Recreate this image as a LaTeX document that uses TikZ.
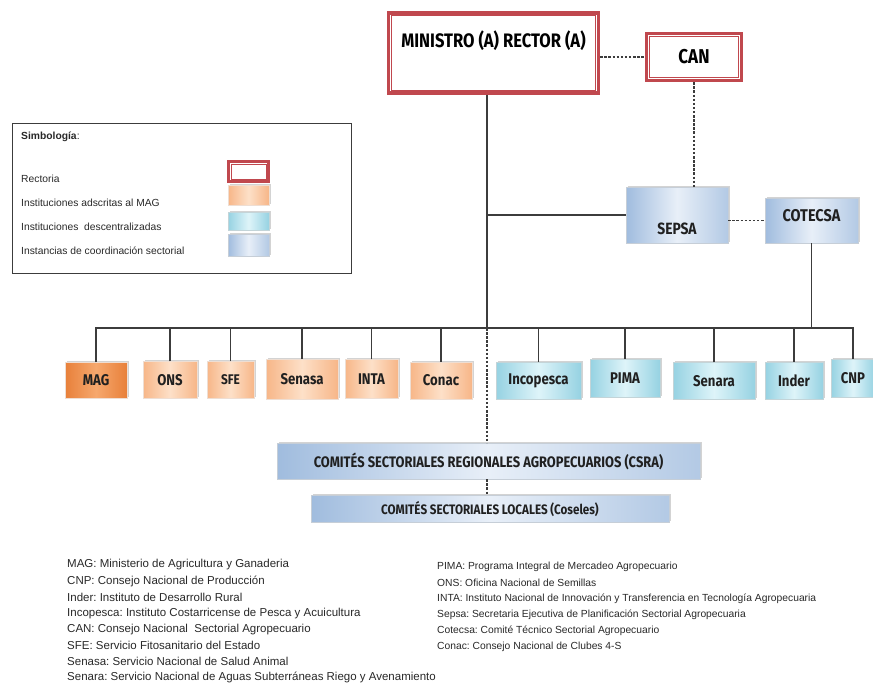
\documentclass[tikz,border=0pt]{standalone}
\usepackage{fontspec}
\setmainfont{Liberation Sans}
\newfontfamily\boxfont[FakeStretch=0.85]{Fira Sans}
\usetikzlibrary{calc,shadows}
\frenchspacing

\definecolor{rectred}{RGB}{192,72,78}
\definecolor{orglt}{RGB}{253,224,200}
\definecolor{orgdk}{RGB}{247,182,136}
\definecolor{maglt}{RGB}{246,168,110}
\definecolor{magdk}{RGB}{232,128,58}
\definecolor{cyanlt}{RGB}{222,244,249}
\definecolor{cyandk}{RGB}{150,210,226}
\definecolor{bluelt}{RGB}{232,239,248}
\definecolor{bluedk}{RGB}{160,188,222}
\definecolor{linegray}{RGB}{60,60,60}
\definecolor{txtgray}{RGB}{40,40,40}

\tikzset{
  rector/.style={draw=rectred, line width=3.5pt, fill=white, font=\boxfont\bfseries},
  rectin/.style={draw=rectred, line width=0.9pt},
  boxsh/.style={drop shadow={opacity=0.35, shadow xshift=1.5pt, shadow yshift=1.5pt}},
  boxtxt/.style={font=\boxfont\bfseries\fontsize{15.5}{15.5}\selectfont, text=txtgray!80!black},
  orgbox/.style={boxsh, left color=orgdk, right color=orgdk, middle color=orglt, draw=orgdk!80!black!30, thin, boxtxt},
  magbox/.style={orgbox, left color=magdk, right color=magdk, middle color=maglt},
  cyanbox/.style={boxsh, left color=cyandk, right color=cyandk, middle color=cyanlt, draw=cyandk!70!black!40, thin, boxtxt},
  bluebox/.style={boxsh, left color=bluedk, right color=bluedk!80, middle color=bluelt, draw=bluedk!70!black!40, thin, boxtxt},
  conn/.style={draw=linegray, line width=1.1pt},
  dashconn/.style={draw=linegray, line width=1.4pt, dash pattern=on 2.5pt off 1.6pt},
  legtext/.style={anchor=west, inner sep=0pt, font=\fontsize{10.3}{10.3}\selectfont, text=txtgray},
  notetext/.style={anchor=west, inner sep=0pt, font=\fontsize{11.5}{11.5}\selectfont, text=txtgray}
}

\begin{document}
\begin{tikzpicture}[x=1pt,y=1pt,yscale=-1,xscale=1]
\useasboundingbox (0,0) rectangle (873,686);

% Top level
\node[rector, minimum width=210, minimum height=80, text depth=27pt, font=\boxfont\bfseries\fontsize{19.5}{19.5}\selectfont] (min) at (493.5,53) {MINISTRO (A) RECTOR (A)};
\draw[rectin] ($(min.north west)+(4.5,4.5)$) rectangle ($(min.south east)+(-4.5,-4.5)$);
\node[rector, minimum width=95, minimum height=47, font=\boxfont\bfseries\fontsize{20}{20}\selectfont] (can) at (694,57) {CAN};
\draw[rectin] ($(can.north west)+(4.5,4.5)$) rectangle ($(can.south east)+(-4.5,-4.5)$);

% Coordination
\node[bluebox, minimum width=102, minimum height=56, text height=40pt, font=\boxfont\bfseries\fontsize{16.3}{16.3}\selectfont] (sepsa) at (677,215) {SEPSA};
\node[bluebox, minimum width=93, minimum height=45, text depth=10pt, font=\boxfont\bfseries\fontsize{17}{17}\selectfont] (cot) at (811.5,220.5) {COTECSA};

% Institutions
\node[magbox, minimum width=62, minimum height=36] (mag) at (96,380.5) {MAG};
\node[orgbox, minimum width=54, minimum height=37] (ons) at (170,380) {ONS};
\node[orgbox, minimum width=47, minimum height=37, font=\boxfont\bfseries\fontsize{14}{14}\selectfont] (sfe) at (230.5,380) {SFE};
\node[orgbox, minimum width=72, minimum height=40] (senasa) at (302,379) {Senasa};
\node[orgbox, minimum width=53, minimum height=39] (inta) at (371.5,379) {INTA};
\node[orgbox, minimum width=62, minimum height=37] (conac) at (441,380.5) {Conac};
\node[cyanbox, minimum width=85, minimum height=37] (incop) at (538.5,380.5) {Incopesca};
\node[cyanbox, minimum width=70, minimum height=38] (pima) at (625,378) {PIMA};
\node[cyanbox, minimum width=82, minimum height=37] (senara) at (714,381) {Senara};
\node[cyanbox, minimum width=58, minimum height=37] (inder) at (794,380.5) {Inder};
\node[cyanbox, minimum width=44, minimum height=38] (cnp) at (853,378) {CNP};

% Regional and local committees
\node[bluebox, minimum width=423, minimum height=36, font=\boxfont\bfseries\fontsize{15.2}{15.2}\selectfont] (csra) at (488.5,461) {COMITÉS SECTORIALES REGIONALES AGROPECUARIOS (CSRA)};
\node[bluebox, minimum width=358, minimum height=27, font=\boxfont\bfseries\fontsize{13.7}{13.7}\selectfont] (cos) at (490,509) {COMITÉS SECTORIALES LOCALES (Coseles)};

% Connectors
\coordinate (bus) at (487,328);
\draw[conn] (min.south -| bus) -- (bus);
\draw[conn] (sepsa.west) -- (sepsa.west -| bus);
\draw[conn] (mag.north) |- (bus) -| (cnp.north);
\foreach \n in {ons,sfe,senasa,inta,conac,incop,pima,senara,inder}
  \draw[conn] (\n.north) -- (\n.north |- bus);
\draw[conn] (cot.south) -- (cot.south |- bus);
\draw[dashconn] (can.west -| min.east) -- (can.west);
\draw[dashconn] (can.south) -- (can.south |- sepsa.north);
\draw[dashconn] (cot.west -| sepsa.east) -- (cot.west);
\draw[dashconn] (bus) -- (csra.north -| bus);
\draw[dashconn] (csra.south -| bus) -- (cos.north -| bus);

% Legend
\node[draw=linegray, line width=1pt, minimum width=339, minimum height=150] (leg) at (181.5,198) {};
\node[legtext] (legt) at (21,137) {\textbf{Simbología}:};
\node[legtext] (l1) at (21,179) {Rectoria};
\node[legtext] (l2) at (21,203) {Instituciones adscritas al MAG};
\node[legtext] (l3) at (21,227) {Instituciones \ descentralizadas};
\node[legtext] (l4) at (21,251) {Instancias de coordinación sectorial};
\node[draw=rectred, line width=3pt, minimum width=40, minimum height=20, fill=white] (s1) at (248.5,171.5) {};
\draw[rectin, line width=0.7pt] ($(s1.north west)+(4,4)$) rectangle ($(s1.south east)+(-4,-4)$);
\node[orgbox, minimum width=41, minimum height=20] (s2) at (248.5,195) {};
\node[cyanbox, minimum width=41, minimum height=18] (s3) at (248.5,221) {};
\node[bluebox, minimum width=41, minimum height=22] (s4) at (248.5,245) {};

% Notes
\foreach \t [count=\i from 0] in {MAG: Ministerio de Agricultura y Ganaderia,
  CNP: Consejo Nacional de Producción,
  Inder: Instituto de Desarrollo Rural,
  Incopesca: Instituto Costarricense de Pesca y Acuicultura,
  CAN: Consejo Nacional \ Sectorial Agropecuario,
  SFE: Servicio Fitosanitario del Estado,
  Senasa: Servicio Nacional de Salud Animal,
  Senara: Servicio Nacional de Aguas Subterráneas Riego y Avenamiento}
  \node[notetext] (nl\i) at (67,565+16.1*\i) {\t};
\foreach \t [count=\i from 0] in {PIMA: Programa Integral de Mercadeo Agropecuario,
  ONS: Oficina Nacional de Semillas,
  INTA: Instituto Nacional de Innovación y Transferencia en Tecnología Agropecuaria,
  Sepsa: Secretaria Ejecutiva de Planificación Sectorial Agropecuaria,
  Cotecsa: Comité Técnico Sectorial Agropecuario,
  Conac: Consejo Nacional de Clubes 4-S}
  \node[notetext, font=\fontsize{10.3}{10.3}\selectfont] (nr\i) at (437,567+16*\i) {\t};

\end{tikzpicture}
\end{document}
